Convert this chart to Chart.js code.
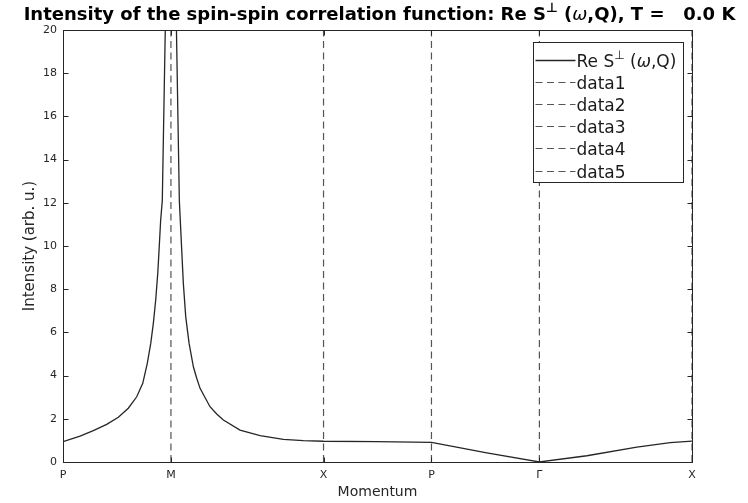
<!DOCTYPE html>
<html>
<head>
<meta charset="utf-8">
<script src="https://cdn.jsdelivr.net/npm/chart.js@4.4.1/dist/chart.umd.min.js"></script>
<style>
    html, body { margin: 0; padding: 0; background: #fff; }
    #wrap { width: 748px; height: 503px; }
</style>
</head>
<body>
<div id="wrap"><canvas id="chart" width="748" height="503"></canvas></div>
<script>
// Momentum path P-M-X-P-Γ-X (segment lengths 1, √2, 1, 1, √2)
const tickPositions = [0, 1, 2.414, 3.414, 4.414, 5.828];
const tickLabels = ['P', 'M', 'X', 'P', 'Γ', 'X'];

// Re S⊥(ω,Q) (the peak at M is clipped at 20)
const momentum = [
    0, 0.158, 0.281, 0.405, 0.513, 0.605, 0.683, 0.739, 0.781, 0.813, 0.837, 0.859, 0.878, 0.890, 0.905, 0.920,
    1.0,
    1.078, 1.100, 1.115, 1.137, 1.168, 1.208, 1.239, 1.270, 1.362, 1.424, 1.486, 1.640, 1.826, 2.042, 2.227, 2.414,
    2.9, 3.414, 3.927, 4.414, 4.854, 5.317, 5.626, 5.828
];
const intensity = [
    0.94, 1.20, 1.45, 1.74, 2.07, 2.49, 3.02, 3.64, 4.57, 5.49, 6.42, 7.5, 8.74, 9.81, 11.2, 12.1,
    35,
    12.1, 9.81, 8.27, 6.73, 5.5, 4.41, 3.88, 3.41, 2.56, 2.22, 1.94, 1.48, 1.22, 1.05, 0.99, 0.96,
    0.94, 0.91, 0.42, 0, 0.29, 0.69, 0.90, 0.97
];

// vertical dashed markers at the high-symmetry points
const markerLabels = ['data1', 'data2', 'data3', 'data4', 'data5'];
const markerPositions = [1, 2.414, 3.414, 4.414, 5.828];

const Y_MIN = 0;
const Y_MAX = 20;
const AXIS_COLOR = '#262626';
const FONT = '"DejaVu Sans", sans-serif';

// draws text made of runs: [text, style] with style '', 'sup' or 'it'
function drawRuns(ctx, runs, x, y, size, weight, align) {
    const fontFor = (style) => {
        if (style === 'sup') return `${weight} ${Math.round(size * 0.7)}px ${FONT}`;
        if (style === 'it') return `italic normal ${size}px ${FONT}`;
        return `${weight} ${size}px ${FONT}`;
    };
    let total = 0;
    runs.forEach(([t, s]) => {
        ctx.font = fontFor(s);
        total += ctx.measureText(t).width;
    });
    let cx = align === 'center' ? x - total / 2 : x;
    ctx.textAlign = 'left';
    ctx.textBaseline = 'alphabetic';
    runs.forEach(([t, s]) => {
        ctx.font = fontFor(s);
        const dy = s === 'sup' ? -size * 0.42 : 0;
        ctx.fillText(t, cx, y + dy);
        cx += ctx.measureText(t).width;
    });
    return total;
}

const titleRuns = [
    ['Intensity of the spin-spin correlation function: Re S', ''],
    ['⊥', 'sup'],
    [' (', ''],
    ['ω', 'it'],
    [',Q), T =   0.0 K', '']
];
const mainLegendRuns = [['Re S', ''], ['⊥', 'sup'], [' (', ''], ['ω', 'it'], [',Q)', '']];

const titlePlugin = {
    id: 'richTitle',
    afterDraw(chart) {
        const ctx = chart.ctx;
        const area = chart.chartArea;
        ctx.save();
        ctx.fillStyle = '#000';
        drawRuns(ctx, titleRuns, (area.left + area.right) / 2 + 2, 20, 18, 'bold', 'center');
        ctx.restore();
    }
};

// MATLAB-like box with inward ticks on all four sides
const boxPlugin = {
    id: 'axesBox',
    afterDatasetsDraw(chart) {
        const ctx = chart.ctx;
        const {left, right, top, bottom} = chart.chartArea;
        const L = Math.round(left) + 0.5, R = Math.round(right) + 0.5;
        const T = Math.round(top) + 0.5, B = Math.round(bottom) + 0.5;
        ctx.save();
        ctx.strokeStyle = AXIS_COLOR;
        ctx.lineWidth = 1;
        ctx.setLineDash([]);
        ctx.strokeRect(L, T, R - L, B - T);
        ctx.beginPath();
        const ys = chart.scales.y;
        ys.ticks.forEach(t => {
            const py = Math.round(ys.getPixelForValue(t.value)) + 0.5;
            ctx.moveTo(L, py); ctx.lineTo(L + 5, py);
            ctx.moveTo(R, py); ctx.lineTo(R - 5, py);
        });
        const xs = chart.scales.x;
        xs.ticks.forEach(t => {
            const px = Math.round(xs.getPixelForValue(t.value)) + 0.5;
            ctx.moveTo(px, B); ctx.lineTo(px, B - 5);
            ctx.moveTo(px, T); ctx.lineTo(px, T + 5);
        });
        ctx.stroke();
        ctx.restore();
    }
};

// boxed legend in the upper right corner of the axes
const legendPlugin = {
    id: 'boxLegend',
    afterDraw(chart) {
        const ctx = chart.ctx;
        const area = chart.chartArea;
        const w = 150, h = 140;
        const x0 = Math.round(area.right - 9 - w) + 0.5;
        const y0 = Math.round(area.top + 12) + 0.5;
        ctx.save();
        ctx.fillStyle = '#fff';
        ctx.fillRect(x0, y0, w, h);
        ctx.strokeStyle = AXIS_COLOR;
        ctx.lineWidth = 1;
        ctx.strokeRect(x0, y0, w, h);
        chart.data.datasets.forEach((ds, i) => {
            const cy = Math.round(y0 + 17 + i * 22.2) + 0.5;
            ctx.beginPath();
            ctx.strokeStyle = ds.borderColor;
            ctx.lineWidth = ds.borderWidth;
            ctx.setLineDash(ds.borderDash || []);
            ctx.moveTo(x0 + 2, cy);
            ctx.lineTo(x0 + 42, cy);
            ctx.stroke();
            ctx.setLineDash([]);
            ctx.fillStyle = '#1a1a1a';
            const runs = i === 0 ? mainLegendRuns : [[ds.label, '']];
            drawRuns(ctx, runs, x0 + 43, cy + 6, 17, 'normal', 'left');
        });
        ctx.restore();
    }
};

const datasets = [{
    label: 'Re S⊥ (ω,Q)',
    data: momentum.map((m, i) => ({x: m, y: intensity[i]})),
    borderColor: '#262626',
    borderWidth: 1.3,
    pointRadius: 0,
    tension: 0,
}];
markerPositions.forEach((pos, i) => {
    datasets.push({
        label: markerLabels[i],
        data: [{x: pos, y: Y_MIN}, {x: pos, y: Y_MAX}],
        borderColor: '#555555',
        borderWidth: 1.2,
        borderDash: [7, 4.5],
        pointRadius: 0,
    });
});

new Chart(document.getElementById('chart'), {
    type: 'line',
    data: {datasets},
    options: {
        responsive: false,
        animation: false,
        layout: {padding: {left: 0, top: 30, right: 56, bottom: 0}},
        plugins: {
            legend: {display: false},
            title: {display: false},
            tooltip: {enabled: false},
        },
        scales: {
            x: {
                type: 'linear',
                min: tickPositions[0],
                max: tickPositions[tickPositions.length - 1],
                grid: {display: false, drawTicks: false},
                border: {display: false},
                afterBuildTicks: (scale) => {
                    scale.ticks = tickPositions.map(v => ({value: v}));
                },
                afterFit: (scale) => { scale.height = 41; },
                ticks: {
                    autoSkip: false,
                    maxRotation: 0,
                    padding: 7,
                    color: AXIS_COLOR,
                    font: {family: FONT, size: 11},
                    callback: (value, index) => tickLabels[index],
                },
                title: {
                    display: true,
                    text: 'Momentum',
                    color: AXIS_COLOR,
                    font: {family: FONT, size: 14},
                    padding: {top: 0, bottom: 2},
                },
            },
            y: {
                min: Y_MIN,
                max: Y_MAX,
                grid: {display: false, drawTicks: false},
                border: {display: false},
                afterFit: (scale) => { scale.width = 63; },
                ticks: {
                    stepSize: 2,
                    padding: 6,
                    color: AXIS_COLOR,
                    font: {family: FONT, size: 11},
                },
                title: {
                    display: true,
                    text: 'Intensity (arb. u.)',
                    color: AXIS_COLOR,
                    font: {family: FONT, size: 15},
                    padding: {top: 21, bottom: 0},
                },
            },
        },
    },
    plugins: [titlePlugin, boxPlugin, legendPlugin],
});
</script>
</body>
</html>
